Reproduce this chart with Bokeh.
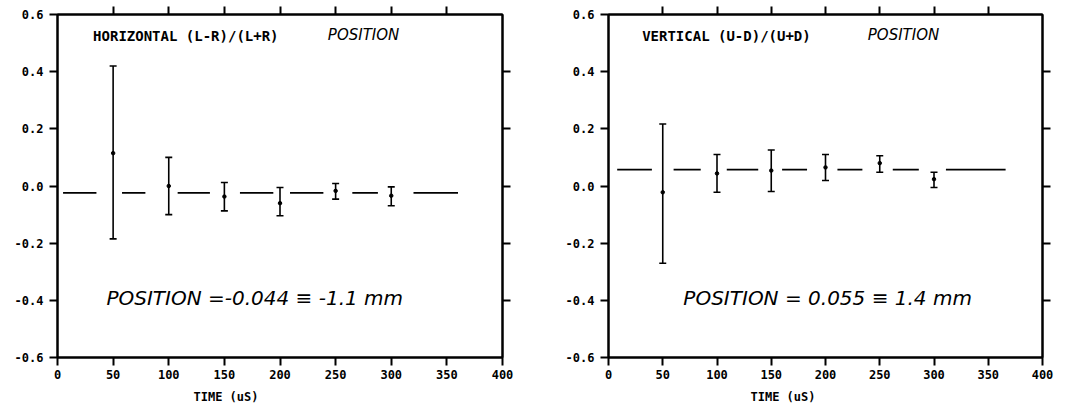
from bokeh.plotting import figure
from bokeh.layouts import row
from bokeh.models import (ColumnDataSource, Whisker, TeeHead, Label, LinearAxis, Title,
                          FixedTicker, PrintfTickFormatter, CustomJSTickFormatter, Range1d)
from bokeh.embed import file_html
from bokeh.resources import INLINE

# ---------------- data ----------------
time = [50, 100, 150, 200, 250, 300]

h_center = [0.115, 0.0, -0.037, -0.06, -0.017, -0.034]
h_upper = [0.42, 0.10, 0.012, -0.005, 0.009, -0.003]
h_lower = [-0.185, -0.10, -0.087, -0.104, -0.046, -0.069]
h_mean = -0.024
h_seg_start = [5, 58, 108, 164, 209, 265, 320]
h_seg_end = [35, 79, 137, 194, 239, 288, 360]

v_center = [-0.022, 0.044, 0.054, 0.065, 0.08, 0.024]
v_upper = [0.217, 0.11, 0.126, 0.11, 0.106, 0.048]
v_lower = [-0.27, -0.022, -0.019, 0.019, 0.048, -0.005]
v_mean = 0.057
v_seg_start = [8, 60, 109, 160, 211, 262, 311]
v_seg_end = [40, 85, 138, 183, 234, 286, 366]

x_ticks = [0, 50, 100, 150, 200, 250, 300, 350, 400]
y_ticks = [-0.6, -0.4, -0.2, 0.0, 0.2, 0.4, 0.6]

MONO = "DejaVu Sans Mono"
HAND = "DejaVu Sans"


def style_axis(ax, labels=True):
    ax.axis_line_width = 2
    ax.axis_line_color = "black"
    ax.major_tick_line_width = 2
    ax.major_tick_line_color = "black"
    ax.major_tick_in = 0
    ax.major_tick_out = 8
    ax.minor_tick_line_color = None
    if labels:
        ax.major_label_text_font = MONO
        ax.major_label_text_font_style = "bold"
        ax.major_label_text_font_size = "12px"
        ax.major_label_text_color = "black"
    else:
        ax.formatter = CustomJSTickFormatter(code="return ''")
        ax.major_label_standoff = 0


def make_panel(width, left, right, top, bottom, center, upper, lower, mean,
               seg_start, seg_end, heading, result, time_off, head_x,
               pos_x, res_x):
    p = figure(width=width, height=412, output_backend="svg", toolbar_location=None,
               x_range=Range1d(0, 400), y_range=Range1d(-0.6, 0.6),
               min_border_left=left, min_border_right=right,
               min_border_top=top, min_border_bottom=bottom)
    p.grid.visible = False
    p.outline_line_color = "black"
    p.outline_line_width = 2
    p.background_fill_color = "white"
    p.border_fill_color = "white"

    p.xaxis.ticker = FixedTicker(ticks=x_ticks)
    p.yaxis.ticker = FixedTicker(ticks=y_ticks)
    p.yaxis.formatter = PrintfTickFormatter(format="%.1f")
    style_axis(p.xaxis[0])
    style_axis(p.yaxis[0])
    p.xaxis.major_label_standoff = 4
    p.yaxis.major_label_standoff = 6

    top_ax = LinearAxis(ticker=FixedTicker(ticks=x_ticks[1:-1]))
    style_axis(top_ax, labels=False)
    p.add_layout(top_ax, "above")
    right_ax = LinearAxis(ticker=FixedTicker(ticks=y_ticks[1:-1]))
    style_axis(right_ax, labels=False)
    p.add_layout(right_ax, "right")

    # mean level segments
    p.segment(x0=seg_start, x1=seg_end, y0=[mean] * len(seg_start),
              y1=[mean] * len(seg_start), line_color="black", line_width=1.8)

    src = ColumnDataSource(dict(t=time, c=center, up=upper, lo=lower))
    w = Whisker(base="t", upper="up", lower="lo", source=src,
                line_color="black", line_width=1.6,
                upper_head=TeeHead(size=7, line_width=1.6, line_color="black"),
                lower_head=TeeHead(size=7, line_width=1.6, line_color="black"))
    p.add_layout(w)
    p.scatter("t", "c", source=src, size=3.5, color="black")

    p.add_layout(Label(x=head_x, y=0.524, text=heading, text_font=MONO,
                       text_font_style="bold", text_font_size="14px",
                       text_baseline="middle", text_color="black"))
    p.add_layout(Label(x=pos_x, y=0.53, text="POSITION", text_font=HAND,
                       text_font_style="italic", text_font_size="15px",
                       text_baseline="middle", text_color="black"))
    p.add_layout(Label(x=res_x, y=-0.393, text=result, text_font=HAND,
                       text_font_style="italic", text_font_size="20px",
                       text_baseline="middle", text_color="black"))
    p.add_layout(Title(text="TIME (uS)", align="left", offset=time_off,
                       text_font=MONO, text_font_style="bold",
                       text_font_size="12px", text_color="black", standoff=13),
                 "below")
    return p


p1 = make_panel(540, 57, 38, 13, 55, h_center, h_upper, h_lower, h_mean,
                h_seg_start, h_seg_end, "HORIZONTAL (L-R)/(L+R)",
                "POSITION =-0.044 \u2261 -1.1 mm", 136, 32, 243, 44)
p2 = make_panel(548, 68, 46, 14, 55, v_center, v_upper, v_lower, v_mean,
                v_seg_start, v_seg_end, "VERTICAL (U-D)/(U+D)",
                "POSITION = 0.055 \u2261 1.4 mm", 142, 31, 239, 69)

layout = row(p1, p2)
open("out.html", "w").write(file_html(layout, INLINE))
